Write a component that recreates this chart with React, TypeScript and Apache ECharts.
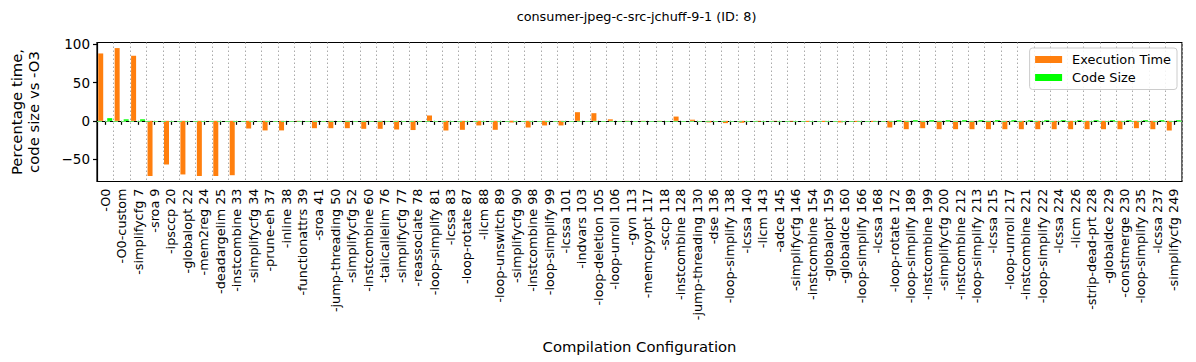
import React, { useEffect, useRef } from "react";
import * as echarts from "echarts";

const categories = [
  "-O0", "-O0-custom", "-simplifycfg 7", "-sroa 9", "-ipsccp 20", "-globalopt 22", "-mem2reg 24",
  "-deadargelim 25", "-instcombine 33", "-simplifycfg 34", "-prune-eh 37", "-inline 38",
  "-functionattrs 39", "-sroa 41", "-jump-threading 50", "-simplifycfg 52", "-instcombine 60",
  "-tailcallelim 76", "-simplifycfg 77", "-reassociate 78", "-loop-simplify 81", "-lcssa 83",
  "-loop-rotate 87", "-licm 88", "-loop-unswitch 89", "-simplifycfg 90", "-instcombine 98",
  "-loop-simplify 99", "-lcssa 101", "-indvars 103", "-loop-deletion 105", "-loop-unroll 106",
  "-gvn 113", "-memcpyopt 117", "-sccp 118", "-instcombine 128", "-jump-threading 130",
  "-dse 136", "-loop-simplify 138", "-lcssa 140", "-licm 143", "-adce 145", "-simplifycfg 146",
  "-instcombine 154", "-globalopt 159", "-globaldce 160", "-loop-simplify 166", "-lcssa 168",
  "-loop-rotate 172", "-loop-simplify 189", "-instcombine 199", "-simplifycfg 200",
  "-instcombine 212", "-loop-simplify 213", "-lcssa 215", "-loop-unroll 217", "-instcombine 221",
  "-loop-simplify 222", "-lcssa 224", "-licm 226", "-strip-dead-prt 228", "-globaldce 229",
  "-constmerge 230", "-loop-simplify 235", "-lcssa 237", "-simplifycfg 249",
];

const executionTime = [
  88, 95, 85, -72, -57, -70, -72, -72, -71, -10, -12.5, -12.5,
  -0.8, -9.6, -9.6, -9.6, -10.4, -10.4, -11.3, -12, 7, -12.6,
  -11.7, -6, -11.7, -2, -8.7, -6, -6, 11.3, 10, 2,
  -0.5, -1.5, -1, 5.6, 1.5, -2, -3, -2.5, -1, -0.5, -1,
  -1.5, -1.5, -2, -1.5, -1.5, -8.7, -10.9, -9.6, -10.9,
  -10.9, -10.9, -10.9, -10.9, -10.9, -10.9, -10.9, -10.9, -10.9, -10.9,
  -10.9, -9.6, -10.9, -12.6,
];

const codeSize = [
  3.5, 2, 2, 0, 0, 0, 0, 0, 0, 0, 0, 0,
  0, 0, 0, 0, 0, 0, 0, 0, 0, 0,
  0, 0, 0, 0, 0, 0, 0, 0, 0, 0,
  0, 0, 0, 0, 0, 0, 0, 0, 0, 0, 0,
  0, 0, 0, 0, 0, 1, 1, 1, 1,
  1, 1, 1, 1, 1, 1, 1, 1, 1, 1,
  1, 1, 1, 1,
];

const yTicks = [-50, 0, 50, 100];

const FONT = "DejaVu Sans";

export default function App() {
  const ref = useRef<HTMLDivElement>(null);
  useEffect(() => {
    if (!ref.current) return;
    const chart = echarts.init(ref.current, null, { renderer: "svg" });
    chart.setOption({
      animation: false,
      backgroundColor: "#ffffff",
      textStyle: { fontFamily: FONT },
      graphic: [
        {
          type: "text",
          x: 636.5,
          y: 16,
          style: {
            text: "consumer-jpeg-c-src-jchuff-9-1 (ID: 8)",
            textAlign: "center",
            textVerticalAlign: "middle",
            fontFamily: FONT,
            fontSize: 12.8,
            fill: "#000",
          },
        },
      ],
      grid: {
        left: 91,
        right: 14,
        top: 42.5,
        bottom: 180.5,
        show: true,
        borderColor: "#000",
        borderWidth: 1.2,
        backgroundColor: "transparent",
      },
      legend: {
        orient: "vertical",
        right: 19,
        top: 48,
        icon: "rect",
        itemWidth: 27,
        itemHeight: 7,
        itemGap: 4,
        padding: [4.5, 6, 5, 5.5],
        borderColor: "#cccccc",
        borderWidth: 1,
        borderRadius: 3,
        backgroundColor: "rgba(255,255,255,0.85)",
        textStyle: {
          fontFamily: FONT,
          fontSize: 12.9,
          color: "#000",
          lineHeight: 14,
          padding: [0, 0, 0, 5],
        },
        data: ["Execution Time", "Code Size"],
      },
      xAxis: {
        type: "category",
        data: categories,
        name: "Compilation Configuration",
        nameLocation: "middle",
        nameGap: 157,
        nameTextStyle: { fontFamily: FONT, fontSize: 14.8, color: "#000" },
        axisLine: { show: true, lineStyle: { color: "#000", width: 1.2 } },
        axisTick: { show: true, alignWithLabel: true, length: 4, lineStyle: { color: "#000", width: 1.2 } },
        axisLabel: {
          interval: 0,
          rotate: 90,
          margin: 7,
          fontFamily: FONT,
          fontSize: 12.8,
          color: "#000",
        },
        splitLine: {
          show: true,
          interval: 0,
          lineStyle: { color: "#aaaaaa", width: 1, type: [1.5, 2.5] },
        },
      },
      yAxis: {
        type: "value",
        min: -79.2,
        max: 102.3,
        name: "Percentage time,\ncode size vs -O3",
        nameLocation: "middle",
        nameGap: 55,
        nameRotate: 90,
        nameTextStyle: { fontFamily: FONT, fontSize: 14.8, color: "#000", lineHeight: 17, align: "center" },
        axisLine: { show: true, lineStyle: { color: "#000", width: 1.2 } },
        axisTick: { show: true, length: 4, customValues: yTicks, lineStyle: { color: "#000", width: 1.2 } },
        axisLabel: {
          customValues: yTicks,
          margin: 7,
          fontFamily: FONT,
          fontSize: 13.5,
          color: "#000",
          formatter: (v: number) => String(v).replace("-", "\u2212"),
        },
        splitLine: { show: false },
      },
      series: [
        {
          name: "Execution Time",
          type: "bar",
          data: executionTime,
          barWidth: 5,
          barGap: "80%",
          itemStyle: { color: "#ff7f0e" },
        },
        {
          name: "Code Size",
          type: "bar",
          data: codeSize,
          barWidth: 5,
          itemStyle: { color: "#00ff00" },
          markLine: {
            silent: true,
            symbol: "none",
            label: { show: false },
            lineStyle: { color: "#66dd66", width: 1, type: [5, 3] },
            data: [{ yAxis: 0 }],
          },
        },
      ],
    });
    return () => chart.dispose();
  }, []);
  return <div ref={ref} style={{ position: "fixed", left: 0, top: 0, width: 1196, height: 362 }} />;
}
